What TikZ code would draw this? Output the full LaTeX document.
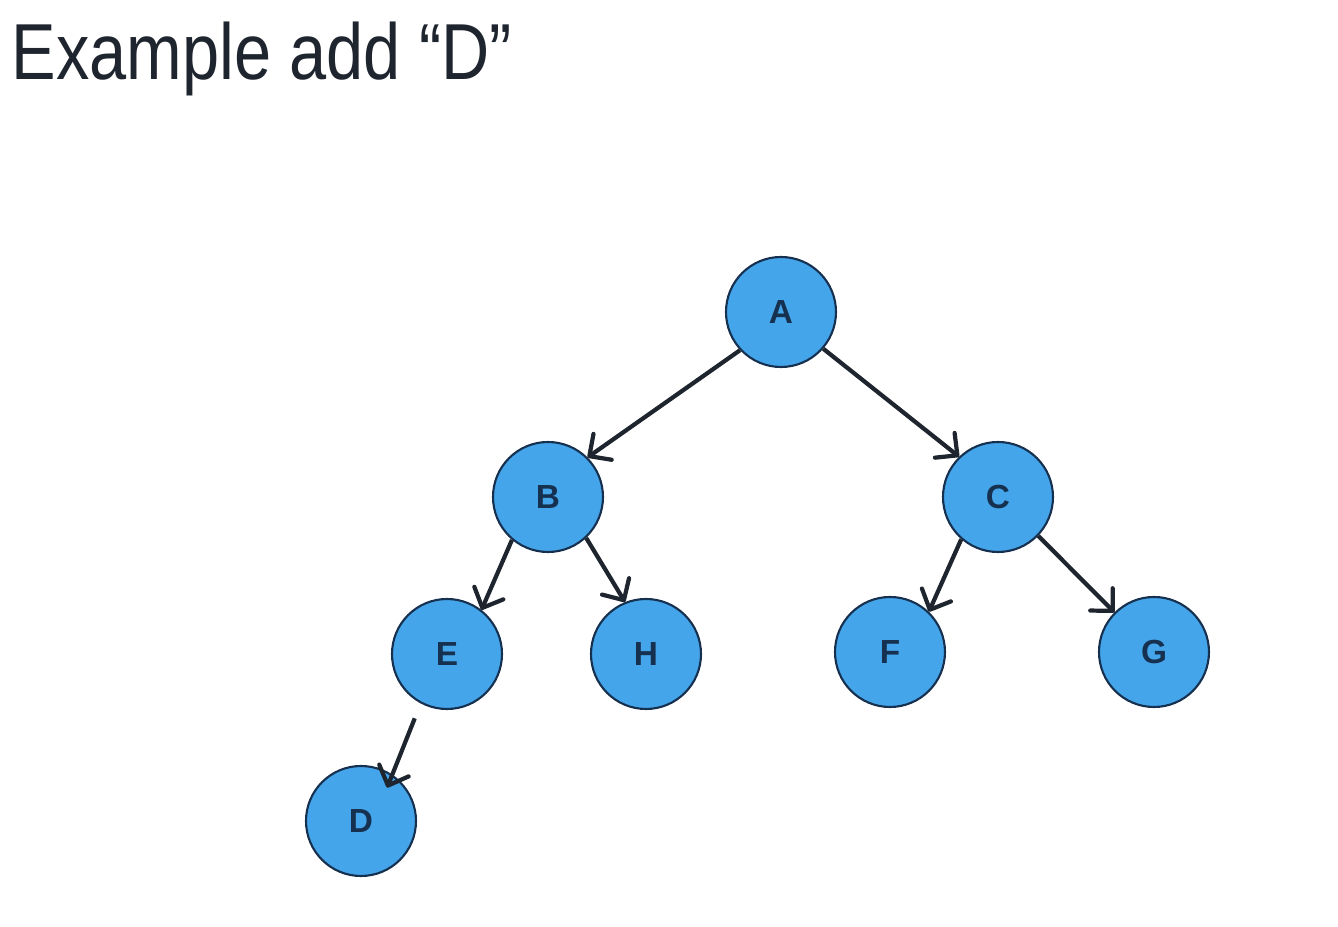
\documentclass[tikz,border=0pt]{standalone}
\usepackage{fontspec}
\setmainfont{Liberation Sans}
\usetikzlibrary{arrows.meta}
\definecolor{nodeblue}{HTML}{45A5EA}
\definecolor{navy}{HTML}{16304F}
\definecolor{ink}{HTML}{1F252E}
\tikzset{
    vertex/.style={circle,fill=nodeblue,draw=navy,line width=0.6pt,minimum size=1.1cm,inner sep=0pt,font=\fontsize{9.5}{11}\selectfont\bfseries,text=navy},
    link/.style={draw=ink,line width=1.2pt,-{Straight Barb[length=4.6pt,width=9pt,line width=1.2pt,round]}}
}
\begin{document}
\begin{tikzpicture}
    \useasboundingbox (0,0) rectangle (13.38,-9.27);
    \node[anchor=base west,inner sep=0pt,text=ink,xscale=0.84,transform shape,font=\fontsize{22.6}{26}\selectfont] (title) at (0.11,-0.80) {Example add “D”};

    \node[vertex] (A) at (7.81,-3.12) {A};
    \node[vertex] (B) at (5.48,-4.97) {B};
    \node[vertex] (C) at (9.98,-4.97) {C};
    \node[vertex] (E) at (4.47,-6.54) {E};
    \node[vertex] (H) at (6.46,-6.54) {H};
    \node[vertex] (F) at (8.90,-6.52) {F};
    \node[vertex] (G) at (11.54,-6.52) {G};
    \node[vertex] (D) at (3.61,-8.21) {D};

    \draw[link] (A.223)--(B.45);
    \draw[link] (A.319)--(C.134);
    \draw[link] (B.230)--(E.52);
    \draw[link] (B.313)--(H.112);
    \draw[link] (C.229)--(F.46);
    \draw[link] (C.316)--(G.135);
    \draw[link,shorten <=0.16cm,shorten >=-0.14cm] (E.242)--(D.56);
\end{tikzpicture}
\end{document}
